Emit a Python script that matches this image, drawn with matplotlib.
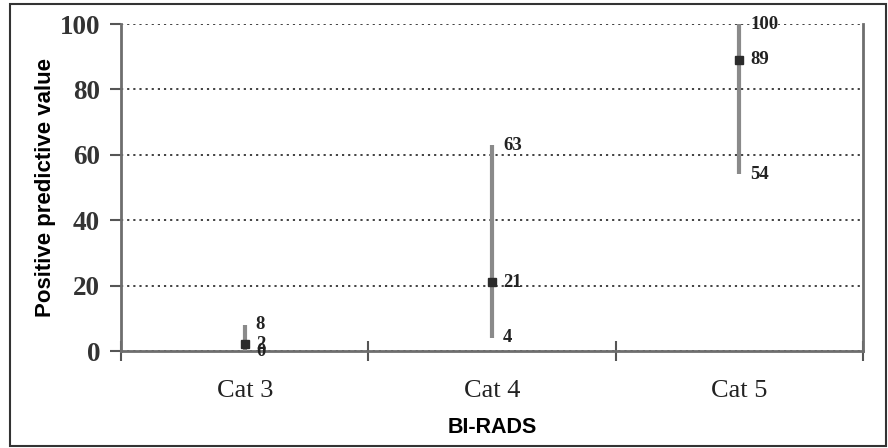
import matplotlib
matplotlib.use('Agg')
import matplotlib.pyplot as plt
from matplotlib.patches import Rectangle
from matplotlib.ticker import FixedLocator, NullFormatter

categories = ['Cat 3', 'Cat 4', 'Cat 5']
ppv = [2, 21, 89]
ci_low = [0, 4, 54]
ci_high = [8, 63, 100]
y_ticks = [0, 20, 40, 60, 80, 100]

serif = ['Liberation Serif', 'DejaVu Serif']
sans = ['Liberation Sans', 'DejaVu Sans']

fig = plt.figure(figsize=(8.88, 4.48), dpi=100)
ax = fig.add_axes([0.1363, 0.2165, 0.9718 - 0.1363, 0.9464 - 0.2165])

pos = [i + 0.5 for i in range(len(categories))]

# confidence interval lines and point estimates
ax.vlines(pos, ci_low, ci_high, colors='#8a8a8a', linewidth=3, zorder=3)
ax.plot(pos, ppv, linestyle='none', marker='s', markersize=6,
        color='#2b2b2b', zorder=4)

# value labels next to each line
for x, lo, mid, hi in zip(pos, ci_low, ppv, ci_high):
    for v in (hi, mid, lo):
        ax.annotate(str(v), (x, v), xytext=(8, 0), textcoords='offset points',
                    va='center', ha='left', fontsize=13.5, fontweight='bold',
                    family=serif, color='#222222', zorder=5)

ax.set_xlim(0, len(categories))
ax.set_ylim(0, 100)

ax.set_xticks(pos)
ax.set_xticklabels(categories, family=serif, fontsize=19, color='#222222')
ax.tick_params(axis='x', which='major', length=0, pad=21)
ax.xaxis.set_minor_locator(FixedLocator(range(len(categories) + 1)))
ax.xaxis.set_minor_formatter(NullFormatter())
ax.tick_params(axis='x', which='minor', direction='inout', length=14,
               width=1.5, color='#555555')

ax.set_yticks(y_ticks)
ax.set_yticklabels([str(t) for t in y_ticks], family=serif, fontsize=19.5,
                   fontweight='bold', color='#333333')
ax.tick_params(axis='y', direction='out', length=8, width=1.5,
               color='#555555', pad=7)

ax.yaxis.grid(True, linestyle=(0, (1.2, 2.2)), color='#333333', linewidth=1.3)
ax.set_axisbelow(True)

ax.spines['top'].set_visible(False)
for s in ('left', 'right', 'bottom'):
    ax.spines[s].set_color('#6e6e6e')
    ax.spines[s].set_linewidth(2)

ax.set_ylabel('Positive predictive value', family=sans, fontsize=16,
              fontweight='bold', labelpad=3)
ax.set_xlabel('BI-RADS', family=sans, fontsize=15.5, fontweight='bold',
              labelpad=11)

# outer frame around the figure
fig.patches.append(Rectangle((10 / 888, 2 / 448), 876 / 888, 442 / 448,
                             transform=fig.transFigure, fill=False,
                             edgecolor='#333333', linewidth=1.5))

fig.savefig('out.png', dpi=100)
